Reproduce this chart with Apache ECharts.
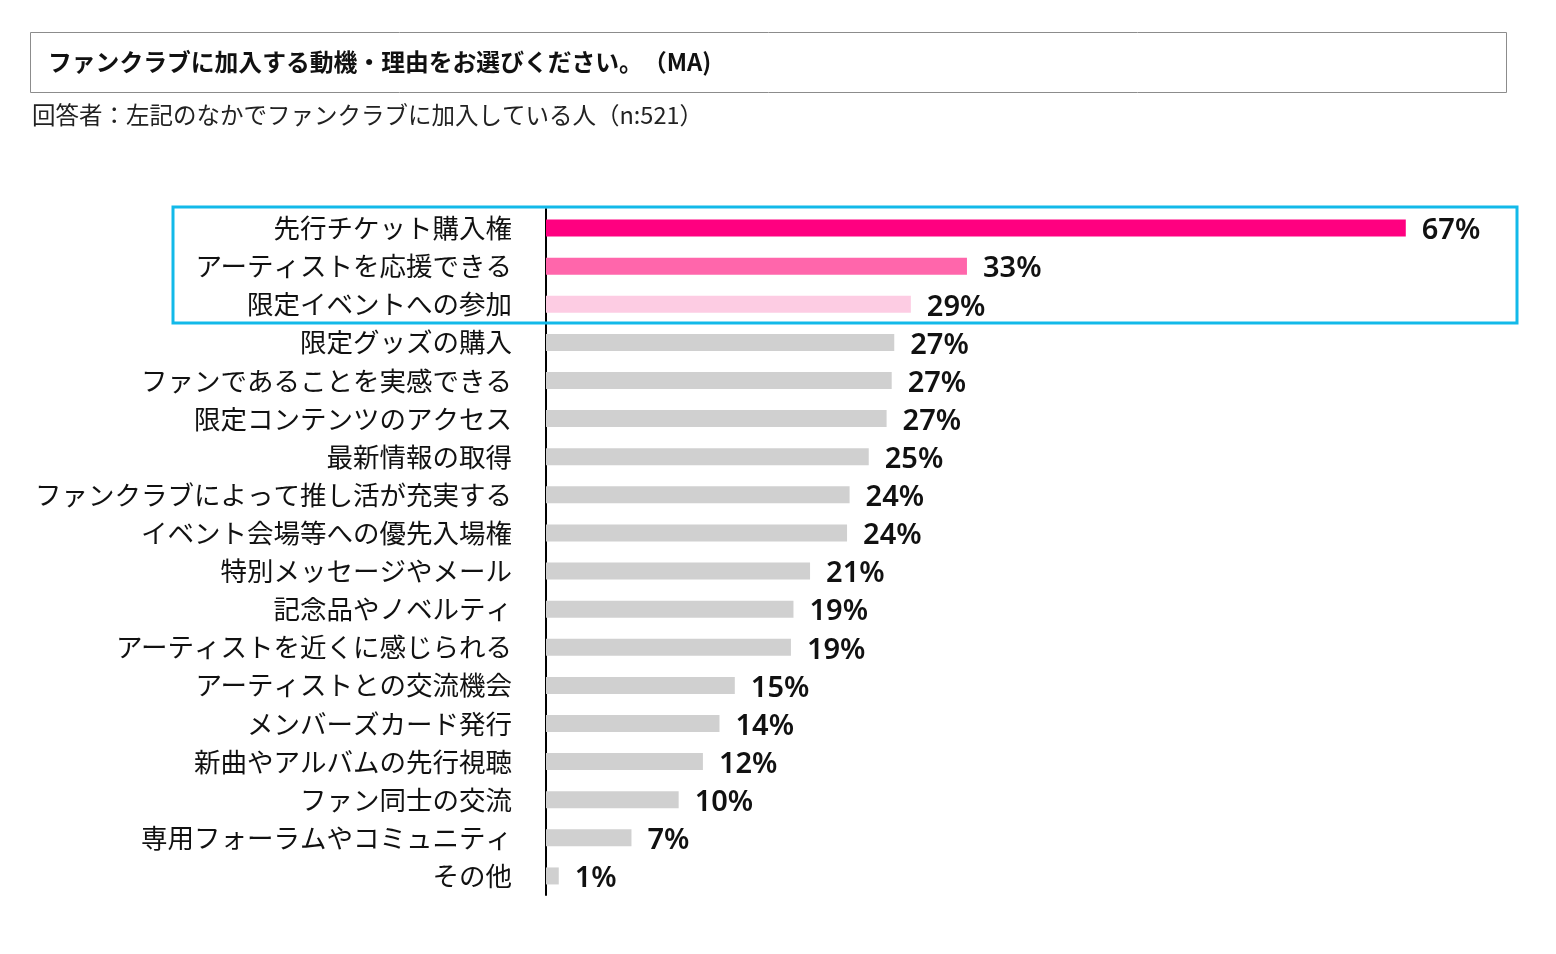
<!DOCTYPE html>
<html>
<head>
<meta charset="utf-8">
<script src="https://cdn.jsdelivr.net/npm/echarts@6/dist/echarts.min.js"></script>
<style>
  html, body { margin: 0; padding: 0; background: #fff; }
  #chart { width: 1556px; height: 954px; }
</style>
</head>
<body>
<div id="chart"></div>
<script>
const categories = [
  "先行チケット購入権",
  "アーティストを応援できる",
  "限定イベントへの参加",
  "限定グッズの購入",
  "ファンであることを実感できる",
  "限定コンテンツのアクセス",
  "最新情報の取得",
  "ファンクラブによって推し活が充実する",
  "イベント会場等への優先入場権",
  "特別メッセージやメール",
  "記念品やノベルティ",
  "アーティストを近くに感じられる",
  "アーティストとの交流機会",
  "メンバーズカード発行",
  "新曲やアルバムの先行視聴",
  "ファン同士の交流",
  "専用フォーラムやコミュニティ",
  "その他"
];
const values = [67.4, 33.0, 28.6, 27.3, 27.1, 26.7, 25.3, 23.8, 23.6, 20.7, 19.4, 19.2, 14.8, 13.6, 12.3, 10.4, 6.7, 1.0];
const highlightColors = ["#ff0080", "#ff66ab", "#fdcce3"];
const otherColor = "#d0d0d0";

const chart = echarts.init(document.getElementById("chart"), null, { renderer: "canvas" });

const option = {
  animation: false,
  backgroundColor: "#fff",
  grid: { left: 546, top: 209, width: 995, height: 686, containLabel: false },
  xAxis: {
    type: "value",
    min: 0,
    max: 78,
    show: false
  },
  yAxis: {
    type: "category",
    inverse: true,
    data: categories,
    axisLine: { show: true, lineStyle: { color: "#000", width: 2 } },
    axisTick: { show: false },
    axisLabel: {
      margin: 34,
      color: "#111",
      fontSize: 26.5,
      padding: [0, 0, 5, 0],
      fontFamily: "Noto Sans CJK JP"
    }
  },
  series: [
    {
      type: "bar",
      barWidth: 17,
      data: values.map(function (v, i) {
        return {
          value: v,
          itemStyle: { color: i < highlightColors.length ? highlightColors[i] : otherColor }
        };
      }),
      label: {
        show: true,
        position: "right",
        distance: 16,
        offset: [0, 3],
        color: "#111",
        fontSize: 29,
        fontWeight: 600,
        fontFamily: "Noto Sans",
        formatter: function (p) {
          return Math.round(p.value) + "%";
        }
      }
    }
  ],
  graphic: [
    {
      type: "rect",
      shape: { x: 30.5, y: 32.5, width: 1476, height: 60 },
      style: { fill: "none", stroke: "#8c8c8c", lineWidth: 1 }
    },
    {
      type: "text",
      left: 48,
      top: 50,
      style: {
        text: "ファンクラブに加入する動機・理由をお選びください。　（MA)",
        font: "bold 23.8px 'Noto Sans CJK JP'",
        fill: "#111"
      }
    },
    {
      type: "text",
      left: 32,
      top: 103,
      style: {
        text: "回答者：左記のなかでファンクラブに加入している人（n:521）",
        font: "23.5px 'Noto Sans CJK JP'",
        fill: "#222"
      }
    },
    {
      type: "rect",
      shape: { x: 173, y: 207, width: 1344, height: 116 },
      style: { fill: "none", stroke: "#12b9e9", lineWidth: 3 },
      z: 10
    }
  ]
};

chart.setOption(option);
</script>
</body>
</html>
